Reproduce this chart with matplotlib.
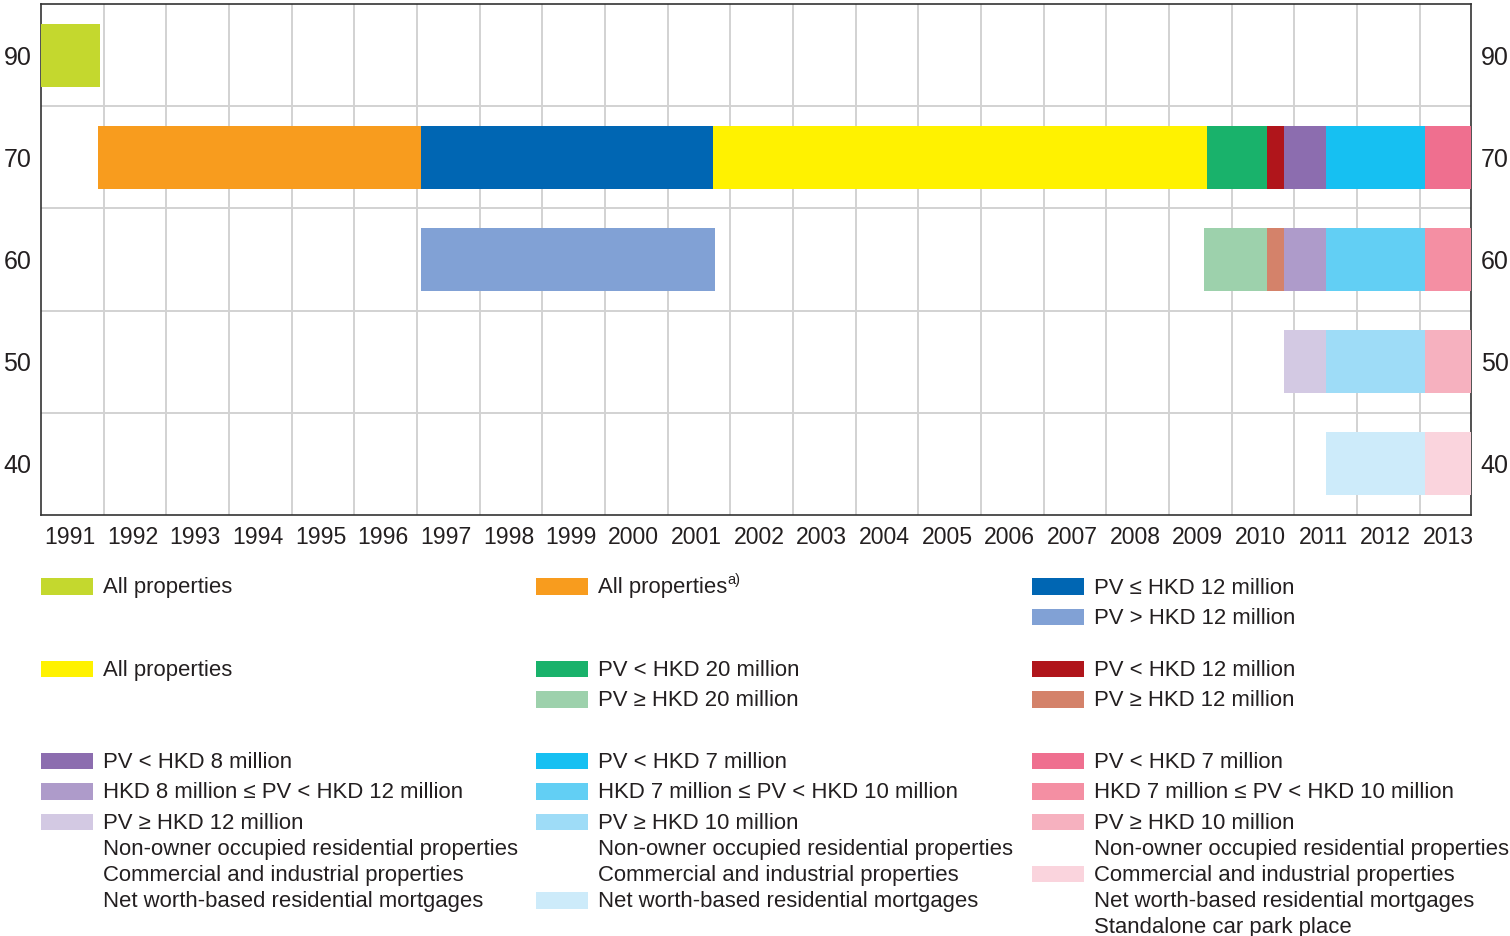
## LTV cap timeline chart
# Horizontal segments show which loan-to-value cap applied to each
# property class over time, one row per LTV level

import numpy as np
import matplotlib
matplotlib.use("Agg")
import matplotlib.pyplot as plt
from matplotlib.patches import Rectangle

## Data
ltv_levels = [40, 50, 60, 70, 90]
years = list(range(1991, 2014))

# Colours of the policy classes
lime, orange, blue, yellow = "#c4d82e", "#f89c1e", "#0066b3", "#fff200"
green, red, purple, cyan, pink = "#19b26b", "#b0151b", "#8c6daf", "#16c0f2", "#ef6f8f"
lightblue, lightgreen, salmon = "#81a1d5", "#9dd1ac", "#d4826a"
lpurple, lcyan, pink2 = "#ae9bca", "#62cff4", "#f48fa3"
lavender, sky, pink3 = "#d3c9e3", "#9edcf7", "#f6b1bf"
paleblue, palepink = "#cdebfa", "#fad4dd"

# One entry per segment: LTV row, start and end (decimal years), colour
seg_ltv = [90, 70, 70, 70, 70, 70, 70, 70, 70,
           60, 60, 60, 60, 60, 60,
           50, 50, 50,
           40, 40]
seg_start = [1991.0, 1991.91, 1997.07, 2001.73, 2009.61, 2010.57, 2010.83, 2011.50, 2013.09,
             1997.06, 2009.56, 2010.57, 2010.83, 2011.50, 2013.09,
             2010.83, 2011.50, 2013.09,
             2011.50, 2013.09]
seg_end = [1991.94, 1997.07, 2001.73, 2009.61, 2010.57, 2010.83, 2011.50, 2013.09, 2013.82,
           2001.76, 2010.57, 2010.83, 2011.50, 2013.09, 2013.82,
           2011.50, 2013.09, 2013.82,
           2013.09, 2013.82]
seg_color = [lime, orange, blue, yellow, green, red, purple, cyan, pink,
             lightblue, lightgreen, salmon, lpurple, lcyan, pink2,
             lavender, sky, pink3,
             paleblue, palepink]

# Legend: three columns, each a list of groups of (label, colour) lines
legend_col1 = [
    [("All properties", lime)],
    [("All properties", yellow)],
    [("PV < HKD 8 million", purple),
     ("HKD 8 million \u2264 PV < HKD 12 million", lpurple),
     ("PV \u2265 HKD 12 million", lavender),
     ("Non-owner occupied residential properties", None),
     ("Commercial and industrial properties", None),
     ("Net worth-based residential mortgages", None)],
]
legend_col2 = [
    [("All properties^a)", orange)],
    [("PV < HKD 20 million", green),
     ("PV \u2265 HKD 20 million", lightgreen)],
    [("PV < HKD 7 million", cyan),
     ("HKD 7 million \u2264 PV < HKD 10 million", lcyan),
     ("PV \u2265 HKD 10 million", sky),
     ("Non-owner occupied residential properties", None),
     ("Commercial and industrial properties", None),
     ("Net worth-based residential mortgages", paleblue)],
]
legend_col3 = [
    [("PV \u2264 HKD 12 million", blue),
     ("PV > HKD 12 million", lightblue)],
    [("PV < HKD 12 million", red),
     ("PV \u2265 HKD 12 million", salmon)],
    [("PV < HKD 7 million", pink),
     ("HKD 7 million \u2264 PV < HKD 10 million", pink2),
     ("PV \u2265 HKD 10 million", pink3),
     ("Non-owner occupied residential properties", None),
     ("Commercial and industrial properties", palepink),
     ("Net worth-based residential mortgages", None),
     ("Standalone car park place", None)],
]

## Style
FONT = ["Liberation Sans", "DejaVu Sans"]
TEXT = "#231f20"
plt.rcParams["font.family"] = FONT
W, H = 1510, 936

fig = plt.figure(figsize=(W / 100, H / 100), dpi=100)
ax = fig.add_axes([41 / W, 1 - 515 / H, 1430 / W, 511 / H])

## Bars
row_of = {v: i for i, v in enumerate(ltv_levels)}
ax.barh([row_of[v] for v in seg_ltv],
        np.array(seg_end) - np.array(seg_start),
        left=seg_start, height=0.615, color=seg_color,
        edgecolor="none", zorder=3)

## Axes
ax.set_xlim(1991.0, 2013.82)
ax.set_ylim(-0.5, len(ltv_levels) - 0.5)
ax.set_xticks(np.array(years) + 0.46, labels=[str(y) for y in years])
ax.set_xticks(years[1:], minor=True)
ax.set_yticks(range(len(ltv_levels)), labels=[str(v) for v in ltv_levels])
ax.set_yticks(np.arange(0.5, len(ltv_levels) - 1, 1), minor=True)
ax.grid(which="minor", color="#d2d2d2", linewidth=1.4, zorder=0)
ax.grid(which="major", visible=False)
ax.set_axisbelow(True)
ax.tick_params(which="both", length=0)
ax.tick_params(axis="x", labelsize=16.6, pad=8, labelcolor=TEXT)
ax.tick_params(axis="y", labelsize=18, pad=7, labelcolor=TEXT,
               labelleft=True, labelright=True)
for sp in ax.spines.values():
    sp.set_color("#333333")
    sp.set_linewidth(1.2)

## Legend (drawn by hand in pixel layout)
col_x = [41, 536, 1032]
group_top = [593.5, 676, 768]
for cx, col in zip(col_x, [legend_col1, legend_col2, legend_col3]):
    for gy, group in zip(group_top, col):
        base = gy
        prev = None
        for k, (label, colour) in enumerate(group):
            if k > 0:
                base += 30.5 if (colour and prev) else 26.1
            prev = colour
            sup = None
            if "^" in label:
                label, sup = label.split("^")
            t = fig.text((cx + 62) / W, 1 - base / H, label, ha="left",
                         va="baseline", fontsize=15.9, color=TEXT)
            if sup:
                ax.annotate(sup, xy=(1, 1), xycoords=t, xytext=(0, 3),
                            textcoords="offset points", ha="left", va="top",
                            fontsize=10.5, color=TEXT)
            if colour:
                y0 = base - 7 - 8.25
                fig.add_artist(Rectangle((cx / W, 1 - (y0 + 16.5) / H),
                                         52 / W, 16.5 / H,
                                         transform=fig.transFigure,
                                         facecolor=colour, edgecolor="none"))

fig.savefig("out.png", dpi=100)
